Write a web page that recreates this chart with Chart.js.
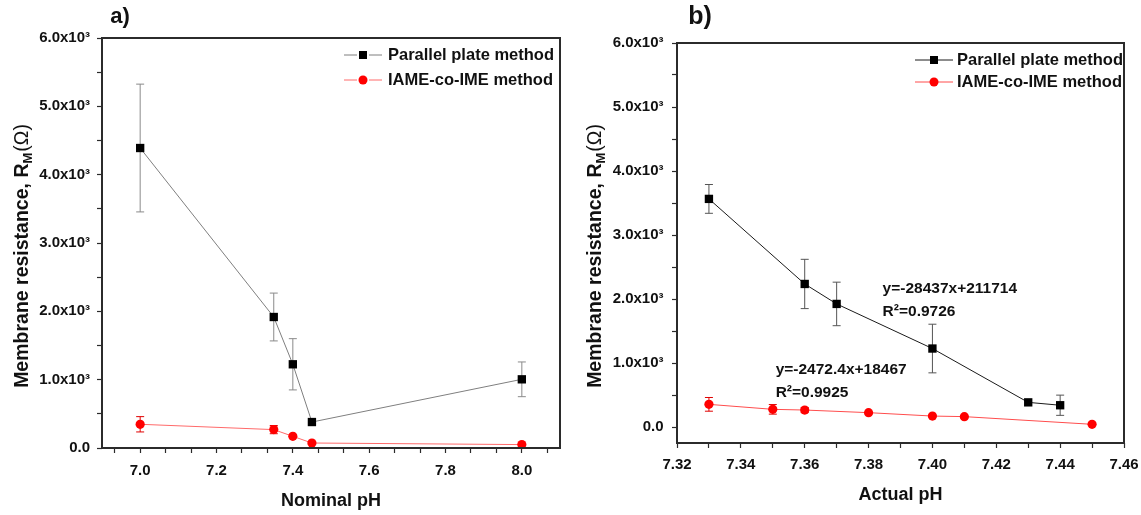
<!DOCTYPE html>
<html>
<head>
<meta charset="utf-8">
<script src="https://cdn.jsdelivr.net/npm/chart.js@4.4.1/dist/chart.umd.min.js"></script>
<style>
    html, body { margin: 0; padding: 0; background: #fff; }
    #wrap { position: relative; width: 1141px; height: 515px; }
    canvas { position: absolute; top: 0; }
    #chartA { left: 0; }
    #chartB { left: 580px; }
</style>
</head>
<body>
<div id="wrap">
    <canvas id="chartA" width="580" height="515"></canvas>
    <canvas id="chartB" width="561" height="515"></canvas>
</div>
<script>
// ---- panel a: nominal pH ----
const phNominal = [7.0, 7.35, 7.4, 7.45, 8.0];
const rParallelA = [4390, 1917, 1225, 380, 1005];
const errParallelA = [935, 350, 375, 0, 254];
const rIameA = [347, 269, 171, 73, 50];
const errIameA = [112, 60, 0, 0, 0];
const xTicksA = [7.0, 7.2, 7.4, 7.6, 7.8, 8.0];

// ---- panel b: actual pH ----
const phActualParallel = [7.33, 7.36, 7.37, 7.40, 7.43, 7.44];
const rParallelB = [3564, 2235, 1923, 1226, 385, 340];
const errParallelB = [225, 385, 340, 380, 0, 158];
const phActualIame = [7.33, 7.35, 7.36, 7.38, 7.40, 7.41, 7.45];
const rIameB = [354, 276, 265, 224, 171, 162, 42];
const errIameB = [107, 75, 40, 0, 0, 0, 0];
const xTicksB = [7.32, 7.34, 7.36, 7.38, 7.40, 7.42, 7.44, 7.46];

// shared y ticks
const yTicks = [0, 1000, 2000, 3000, 4000, 5000, 6000];

const seriesNames = ['Parallel plate method', 'IAME-co-IME method'];
const fitTexts = [
    ['y=-28437x+211714', 'R²=0.9726'],
    ['y=-2472.4x+18467', 'R²=0.9925']
];

const FONT = '"Liberation Sans", Arial, sans-serif';
const AXIS_COLOR = '#2b2b2b';

function toPoints(xs, ys) {
    return xs.map((x, i) => ({ x: x, y: ys[i] }));
}

// majors plus evenly spaced minor ticks
function withMinor(majors, perGap, min, max) {
    const step = (majors[1] - majors[0]) / perGap;
    const out = [];
    for (let v = majors[0] - step * perGap; v <= majors[majors.length - 1] + step * perGap + 1e-9; v += step) {
        const r = Math.round(v * 10000) / 10000;
        if (r >= min - 1e-9 && r <= max + 1e-9) out.push(r);
    }
    return out;
}

function isMajor(list, v) {
    return list.some(m => Math.abs(m - v) < 1e-6);
}

function yLabel(v) {
    if (!isMajor(yTicks, v)) return '';
    if (v === 0) return '0.0';
    return (v / 1000).toFixed(1) + 'x10³';
}

const errorBarPlugin = {
    id: 'errorBars',
    beforeDatasetsDraw(chart) {
        const { ctx, scales: { x, y } } = chart;
        chart.data.datasets.forEach(ds => {
            if (!ds.errors) return;
            ctx.save();
            ctx.strokeStyle = ds.errorColor;
            ctx.lineWidth = 1;
            ds.data.forEach((pt, i) => {
                const e = ds.errors[i];
                if (!e) return;
                const px = x.getPixelForValue(pt.x);
                const top = y.getPixelForValue(pt.y + e);
                const bot = y.getPixelForValue(pt.y - e);
                ctx.beginPath();
                ctx.moveTo(px, top); ctx.lineTo(px, bot);
                ctx.moveTo(px - 4, top); ctx.lineTo(px + 4, top);
                ctx.moveTo(px - 4, bot); ctx.lineTo(px + 4, bot);
                ctx.stroke();
            });
            ctx.restore();
        });
    }
};

// frame, panel letter, y title with subscript, legend, fit equations
const decorPlugin = {
    id: 'decor',
    afterDraw(chart, args, opts) {
        const { ctx, chartArea: a, scales: { x, y } } = chart;
        ctx.save();

        ctx.strokeStyle = AXIS_COLOR;
        ctx.lineWidth = 2;
        ctx.strokeRect(a.left, a.top, a.right - a.left, a.bottom - a.top);

        ctx.fillStyle = '#111';
        ctx.textBaseline = 'middle';
        ctx.textAlign = 'center';
        ctx.font = `bold ${opts.letterSize}px ${FONT}`;
        ctx.fillText(opts.letter, opts.letterX, opts.letterY);

        // y title
        ctx.save();
        ctx.translate(opts.yTitleX, opts.yTitleY);
        ctx.rotate(-Math.PI / 2);
        ctx.textAlign = 'left';
        const main = 'Membrane resistance, R';
        const sub = 'M';
        const tail = '(Ω)';
        ctx.font = `bold 19.5px ${FONT}`;
        const wMain = ctx.measureText(main).width;
        ctx.font = `19.5px ${FONT}`;
        const wTail = ctx.measureText(tail).width;
        ctx.font = `bold 13px ${FONT}`;
        const wSub = ctx.measureText(sub).width;
        let cx = -(wMain + wSub + wTail + 1) / 2;
        ctx.font = `bold 19.5px ${FONT}`;
        ctx.fillText(main, cx, 0);
        cx += wMain;
        ctx.font = `bold 13px ${FONT}`;
        ctx.fillText(sub, cx, 5);
        cx += wSub + 1;
        ctx.font = `19.5px ${FONT}`;
        ctx.fillText(tail, cx, 0);
        ctx.restore();

        // legend
        ctx.font = `bold 16.5px ${FONT}`;
        ctx.textAlign = 'left';
        chart.data.datasets.forEach((ds, i) => {
            const ly = opts.legendY[i];
            const x0 = opts.legendX;
            const x1 = x0 + 38;
            const mx = (x0 + x1) / 2;
            ctx.strokeStyle = ds.borderColor;
            ctx.lineWidth = 1;
            ctx.beginPath();
            if (opts.legendGap) {
                ctx.moveTo(x0, ly); ctx.lineTo(mx - 6, ly);
                ctx.moveTo(mx + 6, ly); ctx.lineTo(x1, ly);
            } else {
                ctx.moveTo(x0, ly); ctx.lineTo(x1, ly);
            }
            ctx.stroke();
            ctx.fillStyle = ds.pointBackgroundColor;
            if (ds.pointStyle === 'rect') {
                ctx.fillRect(mx - 4, ly - 4, 8, 8);
            } else {
                ctx.beginPath();
                ctx.arc(mx, ly, 4.5, 0, Math.PI * 2);
                ctx.fill();
            }
            ctx.fillStyle = '#111';
            ctx.fillText(ds.label, x1 + opts.legendTextGap, ly);
        });

        // fit equations, anchored in data coordinates
        if (opts.fits) {
            ctx.font = `bold 15.5px ${FONT}`;
            opts.fits.forEach(f => {
                const px = x.getPixelForValue(f.x);
                const py = y.getPixelForValue(f.y);
                f.lines.forEach((t, k) => ctx.fillText(t, px, py + k * 22.5));
            });
        }
        ctx.restore();
    }
};

function buildChart(id, p) {
    const tickFont = { family: FONT, size: 15, weight: 'bold' };
    return new Chart(document.getElementById(id), {
        type: 'scatter',
        data: {
            datasets: [
                {
                    label: seriesNames[0],
                    data: toPoints(p.xPar, p.yPar),
                    errors: p.errPar,
                    errorColor: p.parErrColor,
                    showLine: true,
                    borderColor: p.parLine,
                    borderWidth: 1,
                    pointStyle: 'rect',
                    pointRadius: 5.9,
                    pointBackgroundColor: '#000',
                    pointBorderColor: '#000',
                    pointBorderWidth: 0,
                    clip: false
                },
                {
                    label: seriesNames[1],
                    data: toPoints(p.xIame, p.yIame),
                    errors: p.errIame,
                    errorColor: '#e00000',
                    showLine: true,
                    borderColor: p.iameLine,
                    borderWidth: 1,
                    pointStyle: 'circle',
                    pointRadius: 4.6,
                    pointBackgroundColor: '#ff0000',
                    pointBorderColor: '#ff0000',
                    pointBorderWidth: 0,
                    clip: false
                }
            ]
        },
        options: {
            responsive: false,
            animation: false,
            layout: { padding: { top: p.padTop, right: p.padRight, left: 0, bottom: 0 } },
            plugins: {
                legend: { display: false },
                tooltip: { enabled: false },
                decor: p.decor
            },
            scales: {
                x: {
                    type: 'linear',
                    min: p.xMin,
                    max: p.xMax,
                    afterBuildTicks: s => { s.ticks = p.xAll.map(v => ({ value: v })); },
                    afterFit: s => {
                        s.height = p.xAxisH;
                        // let layout.padding alone decide the side margins
                        s.paddingLeft = 0;
                        s.paddingRight = 0;
                    },
                    grid: { drawOnChartArea: false, tickLength: 5, tickColor: AXIS_COLOR, tickWidth: 1.2 },
                    border: { display: false },
                    ticks: {
                        autoSkip: false, maxRotation: 0, padding: p.xPad,
                        font: tickFont, color: '#111',
                        callback: v => isMajor(p.xMajor, v) ? v.toFixed(p.xDigits) : ''
                    },
                    title: {
                        display: true, text: p.xTitle, color: '#111',
                        font: { family: FONT, size: 18, weight: 'bold' },
                        padding: { top: 0, bottom: p.xTitlePad }
                    }
                },
                y: {
                    type: 'linear',
                    min: p.yMin,
                    max: 6000,
                    afterBuildTicks: s => { s.ticks = withMinor(yTicks, 2, p.yMin, 6000).map(v => ({ value: v })); },
                    afterFit: s => { s.width = p.yAxisW; },
                    grid: { drawOnChartArea: false, tickLength: 5, tickColor: AXIS_COLOR, tickWidth: 1.2 },
                    border: { display: false },
                    ticks: { autoSkip: false, padding: p.yPad, font: tickFont, color: '#111', callback: yLabel }
                }
            }
        },
        plugins: [errorBarPlugin, decorPlugin]
    });
}

buildChart('chartA', {
    xPar: phNominal, yPar: rParallelA, errPar: errParallelA,
    xIame: phNominal, yIame: rIameA, errIame: errIameA,
    parLine: '#7f7f7f', parErrColor: '#8a8a8a', iameLine: '#ff6a6a',
    xMin: 6.9, xMax: 8.1, xMajor: xTicksA, xAll: withMinor(xTicksA, 3, 6.9, 8.1), xDigits: 1,
    xTitle: 'Nominal pH', yMin: 0,
    padTop: 38, padRight: 20, xAxisH: 67, yAxisW: 102,
    xPad: 9, yPad: 7, xTitlePad: 3,
    decor: {
        letter: 'a)', letterSize: 22, letterX: 120, letterY: 17,
        yTitleX: 23, yTitleY: 256,
        legendX: 344, legendY: [55, 80], legendGap: true, legendTextGap: 6
    }
});

buildChart('chartB', {
    xPar: phActualParallel, yPar: rParallelB, errPar: errParallelB,
    xIame: phActualIame, yIame: rIameB, errIame: errIameB,
    parLine: '#1a1a1a', parErrColor: '#555', iameLine: '#ff4d4d',
    xMin: 7.32, xMax: 7.46, xMajor: xTicksB, xAll: withMinor(xTicksB, 2, 7.32, 7.46), xDigits: 2,
    xTitle: 'Actual pH', yMin: -250,
    padTop: 43, padRight: 17, xAxisH: 72, yAxisW: 97,
    xPad: 8, yPad: 8.5, xTitlePad: 9,
    decor: {
        letter: 'b)', letterSize: 25, letterX: 120, letterY: 17,
        yTitleX: 16, yTitleY: 256,
        legendX: 335, legendY: [60, 82], legendGap: false, legendTextGap: 4,
        fits: [
            { x: 7.3844, y: 2157, lines: fitTexts[0] },
            { x: 7.3509, y: 888, lines: fitTexts[1] }
        ]
    }
});
</script>
</body>
</html>
